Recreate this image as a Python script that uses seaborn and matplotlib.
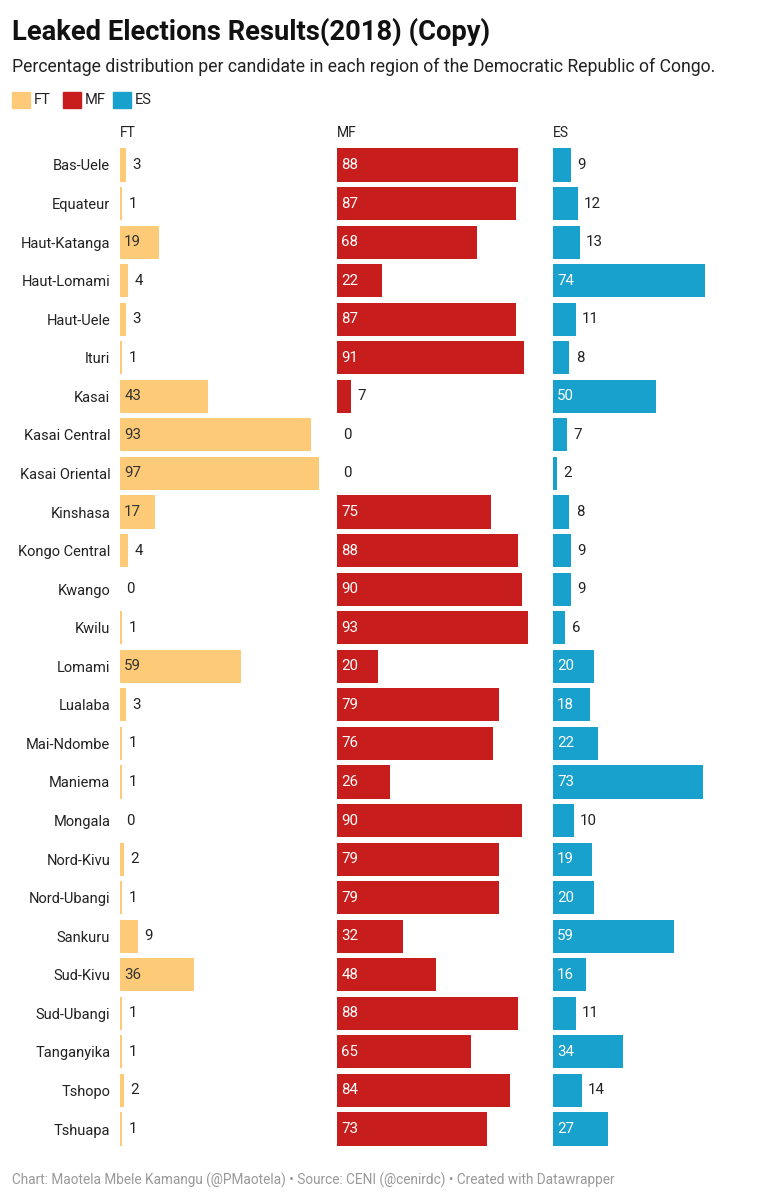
import matplotlib
matplotlib.use("Agg")
import matplotlib.pyplot as plt
import seaborn as sns
import pandas as pd
from matplotlib.patches import Rectangle

regions = ["Bas-Uele", "Equateur", "Haut-Katanga", "Haut-Lomami", "Haut-Uele", "Ituri",
           "Kasai", "Kasai Central", "Kasai Oriental", "Kinshasa", "Kongo Central", "Kwango",
           "Kwilu", "Lomami", "Lualaba", "Mai-Ndombe", "Maniema", "Mongala", "Nord-Kivu",
           "Nord-Ubangi", "Sankuru", "Sud-Kivu", "Sud-Ubangi", "Tanganyika", "Tshopo", "Tshuapa"]
ft = [3, 1, 19, 4, 3, 1, 43, 93, 97, 17, 4, 0, 1, 59, 3, 1, 1, 0, 2, 1, 9, 36, 1, 1, 2, 1]
mf = [88, 87, 68, 22, 87, 91, 7, 0, 0, 75, 88, 90, 93, 20, 79, 76, 26, 90, 79, 79, 32, 48, 88, 65, 84, 73]
es = [9, 12, 13, 74, 11, 8, 50, 7, 2, 8, 9, 9, 6, 20, 18, 22, 73, 10, 19, 20, 59, 16, 11, 34, 14, 27]

candidates = ["FT", "MF", "ES"]
colors = {"FT": "#fdca77", "MF": "#c71e1d", "ES": "#18a1cd"}
inside_text = {"FT": "#333333", "MF": "white", "ES": "white"}

df = pd.DataFrame({"region": regions, "FT": ft, "MF": mf, "ES": es})

sns.set_theme(style="white")
plt.rcParams["font.family"] = ["Roboto", "DejaVu Sans"]

W, H = 771, 1200
fig = plt.figure(figsize=(W / 100, H / 100), dpi=100)

scale = 2.054  # px per percentage point
lefts = {"FT": 120, "MF": 337, "ES": 553}
top_px, bot_px = 145.7, 1148.3

for c in candidates:
    vmax = df[c].max()
    x0 = lefts[c] / W
    w = scale * vmax / W
    ax = fig.add_axes([x0, 1 - bot_px / H, w, (bot_px - top_px) / H])
    sns.barplot(data=df, x=c, y="region", color=colors[c], orient="h",
                width=0.86, saturation=1, linewidth=0, ax=ax)
    ax.set_xlim(0, vmax)
    ax.set_ylim(len(regions) - 0.5, -0.5)
    ax.set_xlabel("")
    ax.set_ylabel("")
    ax.set_xticks([])
    for s in ax.spines.values():
        s.set_visible(False)
    if c == "FT":
        ax.tick_params(axis="y", length=0, pad=7, labelsize=10.5, labelcolor="#222222")
    else:
        ax.set_yticks([])
    for i, v in enumerate(df[c]):
        if v >= 15:
            ax.annotate(str(v), (0, i), xytext=(3, 0), textcoords="offset points",
                        ha="left", va="center", fontsize=10.8, color=inside_text[c])
        else:
            ax.annotate(str(v), (v, i), xytext=(4.5, 0), textcoords="offset points",
                        ha="left", va="center", fontsize=10.8, color="#222222",
                        annotation_clip=False)
    fig.text(x0, 1 - 133 / H, c, ha="left", va="center", fontsize=10, color="#222222")

fig.text(12 / W, 1 - 32 / H, "Leaked Elections Results(2018) (Copy)", ha="left", va="center",
         fontsize=19.7, fontweight="bold", color="#111111")
fig.text(12 / W, 1 - 67 / H,
         "Percentage distribution per candidate in each region of the Democratic Republic of Congo.",
         ha="left", va="center", fontsize=12.7, color="#222222")

leg_x = {"FT": 12, "MF": 63, "ES": 113}
for c in candidates:
    fig.patches.append(Rectangle((leg_x[c] / W, 1 - 108 / H), 18 / W, 16 / H,
                                 transform=fig.transFigure, color=colors[c]))
    fig.text((leg_x[c] + 22) / W, 1 - 100 / H, c, ha="left", va="center",
             fontsize=10.5, color="#222222")

fig.text(12 / W, 1 - 1180 / H,
         "Chart: Maotela Mbele Kamangu (@PMaotela) \u2022 Source: CENI (@cenirdc) \u2022 Created with Datawrapper",
         ha="left", va="center", fontsize=9.8, color="#999999")

fig.savefig("out.png", dpi=100, facecolor="white")
